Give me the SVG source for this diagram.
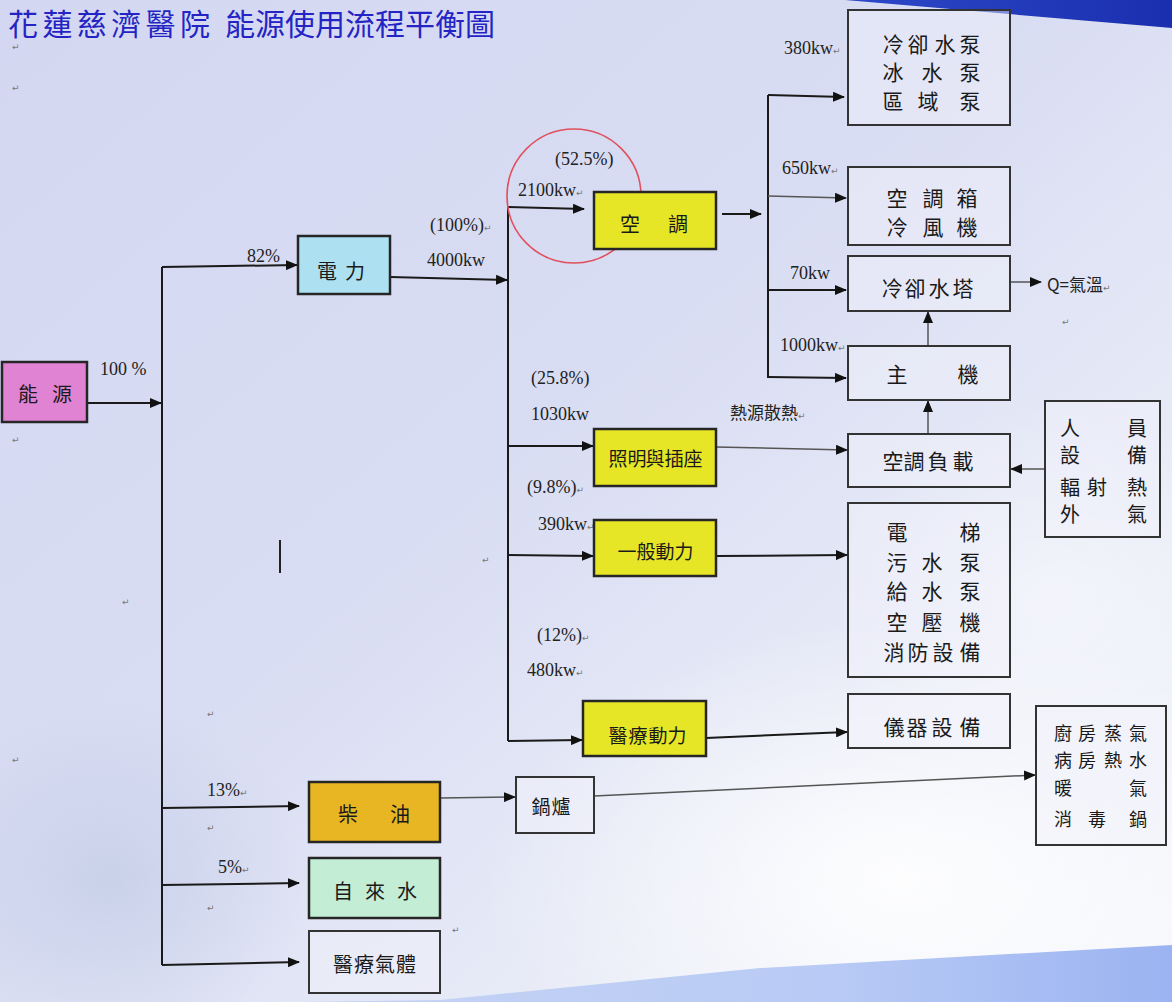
<svg xmlns="http://www.w3.org/2000/svg" width="1172" height="1002" viewBox="0 0 1172 1002">
<defs>
<linearGradient id="bg" x1="0" y1="0" x2="1" y2="1">
<stop offset="0" stop-color="#d3d7f1"/>
<stop offset="0.45" stop-color="#d9ddf3"/>
<stop offset="0.75" stop-color="#e9ecf7"/>
<stop offset="1" stop-color="#f6f8fc"/>
</linearGradient>
<radialGradient id="wh" cx="0.5" cy="0.5" r="0.5">
<stop offset="0" stop-color="#ffffff" stop-opacity="0.9"/>
<stop offset="1" stop-color="#ffffff" stop-opacity="0"/>
</radialGradient>
<radialGradient id="cl" cx="0.5" cy="0.5" r="0.5">
<stop offset="0" stop-color="#c2cce6" stop-opacity="0.7"/>
<stop offset="1" stop-color="#c2cce6" stop-opacity="0"/>
</radialGradient>
<linearGradient id="bb" x1="0" y1="0" x2="1" y2="0">
<stop offset="0" stop-color="#c5d3f4"/>
<stop offset="0.6" stop-color="#b9cbf5"/>
<stop offset="1" stop-color="#9bb3f1"/>
</linearGradient>
<linearGradient id="tb" x1="0" y1="0" x2="1" y2="0">
<stop offset="0" stop-color="#2c48c8"/>
<stop offset="1" stop-color="#1a2fb0"/>
</linearGradient>
<marker id="ah" markerWidth="12" markerHeight="10" refX="11" refY="5" orient="auto" markerUnits="userSpaceOnUse">
<path d="M0,0 L12,5 L0,10 z" fill="#111"/>
</marker>
<style>
.box{stroke:#262626;stroke-width:2.5}
.wbox{fill:#f1f2fa;fill-opacity:0.45;stroke:#333;stroke-width:2}
.cj{font-family:"Noto Sans CJK TC","Noto Sans CJK SC",sans-serif;font-size:20px;fill:#1a1a1a;text-anchor:middle;dominant-baseline:central}
.cr{font-size:21px}
.cs{font-size:19px}
.cm{font-size:18px}
.lb{font-family:"Liberation Serif",serif;font-size:18px;fill:#222}
.lc{font-family:"Noto Sans CJK TC","Noto Sans CJK SC",sans-serif;font-size:17px;fill:#222}
.ret{font-family:"DejaVu Sans",sans-serif;font-size:9px;fill:#777}
.ln{stroke:#1a1a1a;stroke-width:2;fill:none}
.tn{stroke:#555;stroke-width:1.5;fill:none}
.ttl{font-family:"Noto Sans CJK TC","Noto Sans CJK SC",sans-serif;font-size:30px;fill:#2424c4}
</style>
</defs>

<rect x="0" y="0" width="1172" height="1002" fill="url(#bg)"/>
<ellipse cx="900" cy="880" rx="420" ry="260" fill="url(#wh)"/>
<ellipse cx="1050" cy="600" rx="220" ry="200" fill="url(#wh)" opacity="0.5"/>
<ellipse cx="110" cy="880" rx="200" ry="180" fill="url(#cl)"/>
<polygon points="845,0 1172,0 1172,28" fill="url(#tb)"/>
<polygon points="300,1002 440,1000 640,980 760,968 1172,945 1172,1002" fill="url(#bb)"/>

<g id="title">
<text class="ttl" x="8" y="35" textLength="202" lengthAdjust="spacing">花蓮慈濟醫院</text>
<text class="ttl" x="225" y="35" textLength="270" lengthAdjust="spacing">能源使用流程平衡圖</text>
</g>

<g id="marks">
<text class="ret" x="12" y="50">↵</text>
<text class="ret" x="12" y="91">↵</text>
<text class="ret" x="12" y="443">↵</text>
<text class="ret" x="482" y="563">↵</text>
<text class="ret" x="122" y="605">↵</text>
<text class="ret" x="207" y="717">↵</text>
<text class="ret" x="12" y="763">↵</text>
<text class="ret" x="207" y="831">↵</text>
<text class="ret" x="207" y="911">↵</text>
<text class="ret" x="452" y="933">↵</text>
<text class="ret" x="1062" y="325">↵</text>
<line x1="280" y1="540" x2="280" y2="573" stroke="#222" stroke-width="2"/>
</g>

<g id="connectors">
<line class="ln" x1="87" y1="403" x2="161" y2="403" marker-end="url(#ah)"/>
<polyline class="ln" points="162,267 162,965"/>
<polyline class="ln" points="162,267 297,265" marker-end="url(#ah)"/>
<polyline class="ln" points="162,808 299,806" marker-end="url(#ah)"/>
<polyline class="ln" points="162,885 299,883" marker-end="url(#ah)"/>
<polyline class="ln" points="162,965 299,962" marker-end="url(#ah)"/>
<line class="ln" x1="390" y1="277" x2="507" y2="280" marker-end="url(#ah)"/>
<polyline class="ln" points="508,207 508,741"/>
<polyline class="ln" points="508,207 584,209" marker-end="url(#ah)"/>
<polyline class="ln" points="508,446 593,446" marker-end="url(#ah)"/>
<polyline class="ln" points="508,555 593,556" marker-end="url(#ah)"/>
<polyline class="ln" points="508,741 582,740" marker-end="url(#ah)"/>
<line class="ln" x1="722" y1="214" x2="761" y2="214" marker-end="url(#ah)"/>
<polyline class="ln" points="768,95 768,378"/>
<polyline class="ln" points="768,95 844,97" marker-end="url(#ah)"/>
<polyline class="tn" points="768,196 846,198" marker-end="url(#ah)"/>
<polyline class="ln" points="768,290 846,290" marker-end="url(#ah)"/>
<polyline class="ln" points="768,377 846,378" marker-end="url(#ah)"/>
<line class="tn" x1="1010" y1="282" x2="1041" y2="282" marker-end="url(#ah)"/>
<line class="tn" x1="928" y1="345" x2="928" y2="312" marker-end="url(#ah)"/>
<line class="tn" x1="928" y1="433" x2="928" y2="401" marker-end="url(#ah)"/>
<line class="tn" x1="716" y1="447" x2="847" y2="450" marker-end="url(#ah)"/>
<line class="tn" x1="1045" y1="469" x2="1011" y2="469" marker-end="url(#ah)"/>
<line class="ln" x1="716" y1="556" x2="847" y2="555" marker-end="url(#ah)"/>
<line class="ln" x1="706" y1="738" x2="847" y2="732" marker-end="url(#ah)"/>
<line class="tn" x1="440" y1="798" x2="515" y2="797" marker-end="url(#ah)"/>
<line class="tn" x1="594" y1="796" x2="1035" y2="775" marker-end="url(#ah)"/>
</g>

<g id="labels">
<text class="lb" x="100" y="375">100 %</text>
<text class="lb" x="247" y="262">82%</text>
<text class="lb" x="430" y="231">(100%)<tspan class="ret">↵</tspan></text>
<text class="lb" x="427" y="266">4000kw</text>
<text class="lb" x="555" y="165">(52.5%)</text>
<text class="lb" x="518" y="196">2100kw<tspan class="ret">↵</tspan></text>
<text class="lb" x="531" y="384">(25.8%)</text>
<text class="lb" x="531" y="420">1030kw</text>
<text class="lb" x="527" y="493">(9.8%)<tspan class="ret">↵</tspan></text>
<text class="lb" x="538" y="530">390kw<tspan class="ret">↵</tspan></text>
<text class="lb" x="537" y="641">(12%)<tspan class="ret">↵</tspan></text>
<text class="lb" x="527" y="676">480kw<tspan class="ret">↵</tspan></text>
<text class="lb" x="784" y="54">380kw<tspan class="ret">↵</tspan></text>
<text class="lb" x="782" y="174">650kw<tspan class="ret">↵</tspan></text>
<text class="lb" x="790" y="279">70kw</text>
<text class="lb" x="780" y="351">1000kw<tspan class="ret">↵</tspan></text>
<text class="lc" x="730" y="419">熱源散熱<tspan class="ret">↵</tspan></text>
<text class="lc" x="1047" y="291">Q=氣溫<tspan class="ret">↵</tspan></text>
<text class="lb" x="207" y="796">13%<tspan class="ret">↵</tspan></text>
<text class="lb" x="218" y="873">5%<tspan class="ret">↵</tspan></text>
</g>

<circle cx="574" cy="196" r="67" fill="none" stroke="#e0505e" stroke-width="1.6"/>

<g id="n-energy">
<rect class="box" x="2" y="362" width="85" height="60" fill="#e083d2"/>
<text class="cj" x="28 62" y="393">能源</text>
</g>
<g id="n-power">
<rect class="box" x="298" y="236" width="92" height="58" fill="#ade1f2"/>
<text class="cj" x="327 355" y="270">電力</text>
</g>
<g id="n-ac">
<rect class="box" x="594" y="192" width="122" height="57" fill="#e6e626"/>
<text class="cj" x="630 678" y="223">空調</text>
</g>
<g id="n-light">
<rect class="box" x="594" y="429" width="122" height="57" fill="#e6e626"/>
<text class="cj cs" x="618 637 655 674 693" y="457">照明與插座</text>
</g>
<g id="n-general">
<rect class="box" x="594" y="520" width="122" height="56" fill="#e6e626"/>
<text class="cj cs" x="627 646 665 684" y="550">一般動力</text>
</g>
<g id="n-medpower">
<rect class="box" x="583" y="701" width="123" height="55" fill="#e6e626"/>
<text class="cj cs" x="618 638 658 677" y="734">醫療動力</text>
</g>
<g id="n-diesel">
<rect class="box" x="309" y="782" width="131" height="60" fill="#e8b622"/>
<text class="cj" x="348 400" y="813">柴油</text>
</g>
<g id="n-water">
<rect class="box" x="309" y="858" width="131" height="60" fill="#c3edd4"/>
<text class="cj" x="343 375 407" y="890">自來水</text>
</g>
<g id="n-medgas">
<rect class="wbox" x="309" y="931" width="131" height="62" stroke-width="2.5"/>
<text class="cj" x="343 364 385 406" y="963">醫療氣體</text>
</g>
<g id="n-boiler">
<rect class="wbox" x="516" y="777" width="78" height="56"/>
<text class="cj cs" x="541 561" y="805">鍋爐</text>
</g>
<g id="n-pumps">
<rect class="wbox" x="848" y="10" width="162" height="115"/>
<text class="cj cr" x="893 918 945 970" y="43">冷卻水泵</text>
<text class="cj cr" x="893 932 970" y="71">冰水泵</text>
<text class="cj cr" x="893 928 970" y="100">區域泵</text>
</g>
<g id="n-ahu">
<rect class="wbox" x="848" y="167" width="162" height="78"/>
<text class="cj cr" x="897 933 967" y="197">空調箱</text>
<text class="cj cr" x="897 933 967" y="226">冷風機</text>
</g>
<g id="n-tower">
<rect class="wbox" x="848" y="256" width="162" height="55"/>
<text class="cj cr" x="892 915 939 963" y="287">冷卻水塔</text>
</g>
<g id="n-chiller">
<rect class="wbox" x="848" y="346" width="162" height="54"/>
<text class="cj cr" x="897 968" y="373">主機</text>
</g>
<g id="n-load">
<rect class="wbox" x="848" y="434" width="162" height="53"/>
<text class="cj cr" x="893 914 938 963" y="460">空調負載</text>
</g>
<g id="n-sources">
<rect class="wbox" x="1045" y="401" width="115" height="136"/>
<text class="cj" x="1070 1137" y="427">人員</text>
<text class="cj" x="1070 1137" y="454">設備</text>
<text class="cj" x="1070 1097 1137" y="486">輻射熱</text>
<text class="cj" x="1070 1137" y="513">外氣</text>
</g>
<g id="n-equip">
<rect class="wbox" x="848" y="503" width="162" height="174"/>
<text class="cj cr" x="897 970" y="531">電梯</text>
<text class="cj cr" x="897 932 970" y="561">污水泵</text>
<text class="cj cr" x="897 932 970" y="590">給水泵</text>
<text class="cj cr" x="897 932 970" y="621">空壓機</text>
<text class="cj cr" x="894 918 943 970" y="651">消防設備</text>
</g>
<g id="n-instr">
<rect class="wbox" x="848" y="694" width="162" height="54"/>
<text class="cj cr" x="894 917 942 970" y="726">儀器設備</text>
</g>
<g id="n-steam">
<rect class="wbox" x="1036" y="706" width="130" height="139" fill="#ffffff" fill-opacity="0.7"/>
<text class="cj cm" x="1063 1087 1113 1138" y="732">廚房蒸氣</text>
<text class="cj cm" x="1063 1087 1113 1138" y="759">病房熱水</text>
<text class="cj cm" x="1063 1138" y="787">暖氣</text>
<text class="cj cm" x="1063 1097 1138" y="818">消毒鍋</text>
</g>
</svg>
